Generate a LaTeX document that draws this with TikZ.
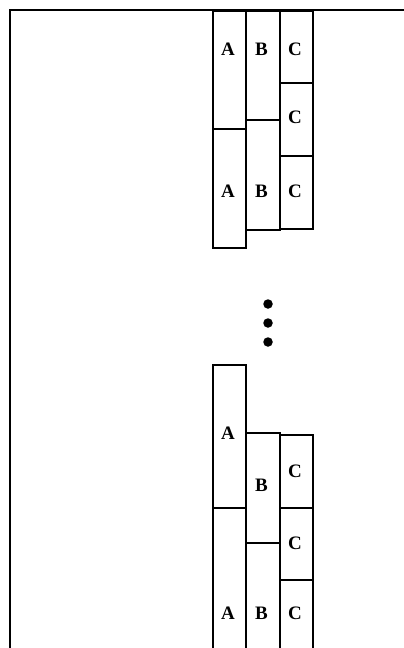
\documentclass[tikz,border=0pt]{standalone}
\usepackage{fontspec}
\setmainfont{Liberation Serif}
\begin{document}
\begin{tikzpicture}[x=1pt,y=-1pt,
  box/.style={draw, line width=1.6pt, inner sep=0pt, anchor=north west, minimum width=#1},
  box/.default=33pt,
  lbl/.style={inner sep=0pt, font=\fontsize{19}{19}\selectfont\bfseries},
  frameline/.style={line width=1.2pt},
  dotmark/.style={circle, fill=black, inner sep=0pt, minimum size=9.5pt}]
\useasboundingbox (0,0) rectangle (404,648);
% frame
\coordinate (ftr) at (404,10);
\coordinate (ftl) at (10,10);
\coordinate (fbl) at (10,648);
\draw[frameline] (ftr) -- (ftl) -- (fbl);
% top group
\node[box, minimum height=118pt] (a1) at (212,10) {};
\node[box, minimum height=119pt] (a2) at (212,128) {};
\node[box=34pt, minimum height=109pt] (b1) at (245,10) {};
\node[box=34pt, minimum height=110pt] (b2) at (245,119) {};
\node[box, minimum height=72pt] (c1) at (279,10) {};
\node[box, minimum height=73pt] (c2) at (279,82) {};
\node[box, minimum height=73pt] (c3) at (279,155) {};
\node[lbl] (la1) at (228,49) {A};
\node[lbl] (la2) at (228,191.5) {A};
\node[lbl] (lb1) at (261.5,49) {B};
\node[lbl] (lb2) at (261.5,191.5) {B};
\node[lbl] (lc1) at (295,49) {C};
\node[lbl] (lc2) at (295,117.5) {C};
\node[lbl] (lc3) at (295,191.5) {C};
% dots
\node[dotmark] (d1) at (268,304) {};
\node[dotmark] (d2) at (268,323) {};
\node[dotmark] (d3) at (268,342) {};
% bottom group
\node[box, minimum height=143pt] (e1) at (212,364) {};
\node[box, minimum height=153pt] (e2) at (212,507) {};
\node[box=34pt, minimum height=110pt] (f1) at (245,432) {};
\node[box=34pt, minimum height=118pt] (f2) at (245,542) {};
\node[box, minimum height=73pt] (g1) at (279,434) {};
\node[box, minimum height=72pt] (g2) at (279,507) {};
\node[box, minimum height=81pt] (g3) at (279,579) {};
\node[lbl] (le1) at (228,433) {A};
\node[lbl] (lf1) at (261.5,485) {B};
\node[lbl] (lg1) at (295,471) {C};
\node[lbl] (lg2) at (295,543) {C};
\node[lbl] (le2) at (228,613) {A};
\node[lbl] (lf2) at (261.5,613) {B};
\node[lbl] (lg3) at (295,613) {C};
\end{tikzpicture}
\end{document}
